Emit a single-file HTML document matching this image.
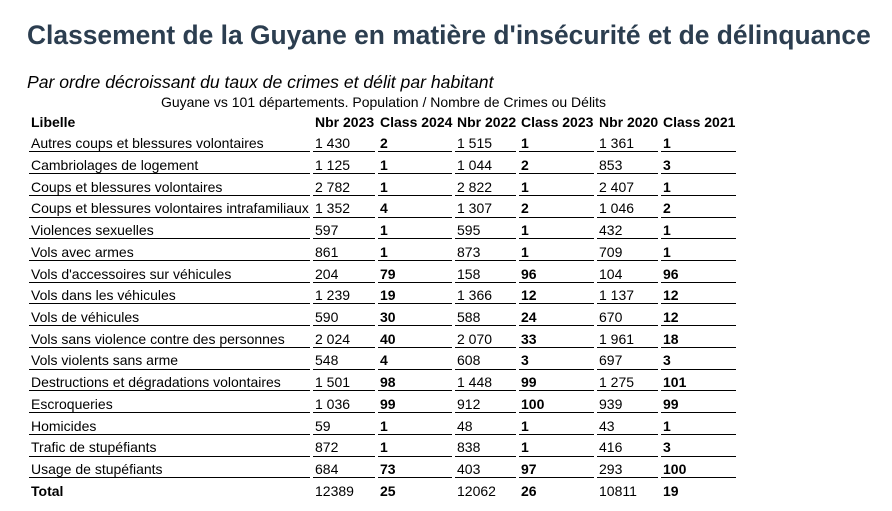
<!DOCTYPE html>
<html>
<head>
<meta charset="utf-8">
<style>
  html, body { margin:0; padding:0; background:#fff; }
  body { width:892px; height:511px; position:relative; overflow:hidden; font-family:"Liberation Sans", Arial, sans-serif; color:#000; }
  .title { position:absolute; left:27px; top:20.5px; font-size:26.4px; font-weight:bold; color:#2c3e50; white-space:nowrap; line-height:29.5px; }
  .sub { position:absolute; left:27px; top:72px; font-size:17.6px; font-style:italic; white-space:nowrap; line-height:20px; }
  .cap { position:absolute; left:30px; width:707px; top:94.3px; font-size:14px; text-align:center; white-space:nowrap; line-height:16px; }
  .grid { position:absolute; left:29px; top:111px; display:grid;
    grid-template-columns: 281px 62px 74px 61px 75px 61px 75px;
    grid-auto-rows: 19.73px; column-gap:3px; row-gap:2px; }
  .grid div { font-size:14px; line-height:16px; padding:2.5px 0 0 2px; box-sizing:border-box; height:19.73px; border-bottom:1px solid #000; white-space:nowrap; }
  .grid div.h, .grid div.t { border-bottom-color:transparent; }
  .b { font-weight:bold; }
</style>
</head>
<body>
<div class="title">Classement de la Guyane en matière d'insécurité et de délinquance</div>
<div class="sub">Par ordre décroissant du taux de crimes et délit par habitant</div>
<div class="cap">Guyane vs 101 départements. Population / Nombre de Crimes ou Délits</div>
<div class="grid">
  <div class="h b">Libelle</div><div class="h b">Nbr 2023</div><div class="h b">Class 2024</div><div class="h b">Nbr 2022</div><div class="h b">Class 2023</div><div class="h b">Nbr 2020</div><div class="h b">Class 2021</div>

  <div>Autres coups et blessures volontaires</div><div>1 430</div><div class="b">2</div><div>1 515</div><div class="b">1</div><div>1 361</div><div class="b">1</div>
  <div>Cambriolages de logement</div><div>1 125</div><div class="b">1</div><div>1 044</div><div class="b">2</div><div>853</div><div class="b">3</div>
  <div>Coups et blessures volontaires</div><div>2 782</div><div class="b">1</div><div>2 822</div><div class="b">1</div><div>2 407</div><div class="b">1</div>
  <div>Coups et blessures volontaires intrafamiliaux</div><div>1 352</div><div class="b">4</div><div>1 307</div><div class="b">2</div><div>1 046</div><div class="b">2</div>
  <div>Violences sexuelles</div><div>597</div><div class="b">1</div><div>595</div><div class="b">1</div><div>432</div><div class="b">1</div>
  <div>Vols avec armes</div><div>861</div><div class="b">1</div><div>873</div><div class="b">1</div><div>709</div><div class="b">1</div>
  <div>Vols d'accessoires sur véhicules</div><div>204</div><div class="b">79</div><div>158</div><div class="b">96</div><div>104</div><div class="b">96</div>
  <div>Vols dans les véhicules</div><div>1 239</div><div class="b">19</div><div>1 366</div><div class="b">12</div><div>1 137</div><div class="b">12</div>
  <div>Vols de véhicules</div><div>590</div><div class="b">30</div><div>588</div><div class="b">24</div><div>670</div><div class="b">12</div>
  <div>Vols sans violence contre des personnes</div><div>2 024</div><div class="b">40</div><div>2 070</div><div class="b">33</div><div>1 961</div><div class="b">18</div>
  <div>Vols violents sans arme</div><div>548</div><div class="b">4</div><div>608</div><div class="b">3</div><div>697</div><div class="b">3</div>
  <div>Destructions et dégradations volontaires</div><div>1 501</div><div class="b">98</div><div>1 448</div><div class="b">99</div><div>1 275</div><div class="b">101</div>
  <div>Escroqueries</div><div>1 036</div><div class="b">99</div><div>912</div><div class="b">100</div><div>939</div><div class="b">99</div>
  <div>Homicides</div><div>59</div><div class="b">1</div><div>48</div><div class="b">1</div><div>43</div><div class="b">1</div>
  <div>Trafic de stupéfiants</div><div>872</div><div class="b">1</div><div>838</div><div class="b">1</div><div>416</div><div class="b">3</div>
  <div>Usage de stupéfiants</div><div>684</div><div class="b">73</div><div>403</div><div class="b">97</div><div>293</div><div class="b">100</div>

  <div class="t b">Total</div><div class="t">12389</div><div class="t b">25</div><div class="t">12062</div><div class="t b">26</div><div class="t">10811</div><div class="t b">19</div>
</div>
</body>
</html>
